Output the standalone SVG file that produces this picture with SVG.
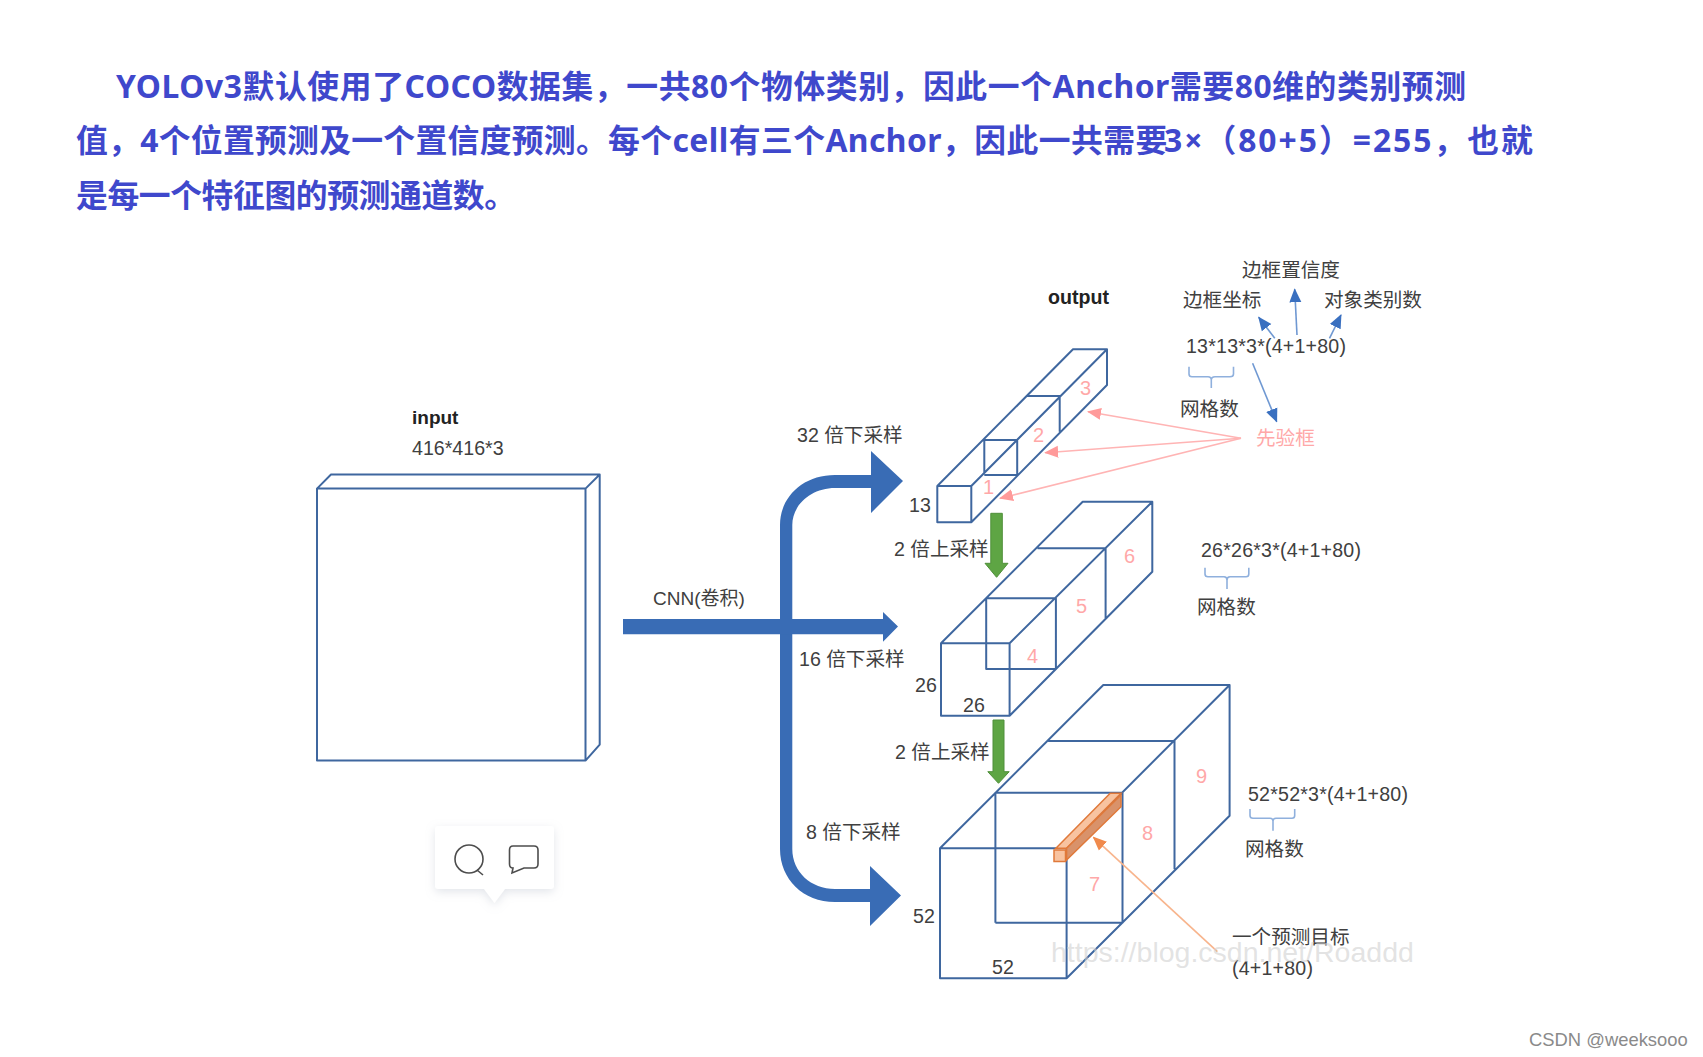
<svg xmlns="http://www.w3.org/2000/svg" width="1703" height="1057" viewBox="0 0 1703 1057">
<style>
text{font-family:"Liberation Sans","Noto Sans CJK SC",sans-serif;font-size:19.6px;fill:#404040}
.title{font-family:"Noto Sans","Noto Sans CJK SC",sans-serif;font-size:31.8px;font-weight:700;fill:#3f48cc}
.b{font-weight:700;fill:#222}
.p{fill:#ffa8a8;font-size:20px}
.box{fill:none;stroke:#3f679f;stroke-width:2;stroke-linejoin:round}
.big{fill:#396cb5}
.green{fill:#5ea544;stroke:#4f8f3a;stroke-width:1}
.br{fill:none;stroke:#8fb0dd;stroke-width:1.6}
.bl{fill:none;stroke:#6f98d2;stroke-width:1.6}
.pk{fill:none;stroke:#ffb4b4;stroke-width:1.6}
.or{fill:none;stroke:#f8b48c;stroke-width:1.6}
</style>
<defs>
<marker id="mb" markerUnits="userSpaceOnUse" markerWidth="14" markerHeight="14" refX="13" refY="7" orient="auto"><path d="M0 1L14 7L0 13Z" fill="#3a70c0"/></marker>
<marker id="mp" markerUnits="userSpaceOnUse" markerWidth="14" markerHeight="14" refX="13" refY="7" orient="auto"><path d="M0 1L14 7L0 13Z" fill="#ff9a9a"/></marker>
<marker id="mo" markerUnits="userSpaceOnUse" markerWidth="14" markerHeight="14" refX="13" refY="7" orient="auto"><path d="M0 1L14 7L0 13Z" fill="#f08a4c"/></marker>
<filter id="sh" x="-20%" y="-20%" width="140%" height="150%"><feDropShadow dx="0" dy="3" stdDeviation="5" flood-color="#9aa3b5" flood-opacity=".28"/></filter>
</defs>
<rect width="1703" height="1057" fill="#fff"/>
<g id="heading">
<text class="title" x="116" y="98" textLength="1350" lengthAdjust="spacing">YOLOv3默认使用了COCO数据集，一共80个物体类别，因此一个Anchor需要80维的类别预测</text>
<text class="title" y="152"><tspan x="76" style="letter-spacing:.3px">值，4个位置预测及一个置信度预测。</tspan><tspan x="608" style="letter-spacing:.45px">每个cell有三个Anchor，因此一共需要</tspan><tspan x="1164" style="letter-spacing:2px">3×（80+5）=255，也就</tspan></text>
<text class="title" x="76" y="207" textLength="440" lengthAdjust="spacing">是每一个特征图的预测通道数。</text>
</g>
<g id="input">
<path class="box" d="M317 488.600H585.500V760.600H317ZM317 488.600L331 474.500H599.700V744.700L585.500 760.600M585.500 488.600L599.700 474.500"/>
<text class="b" x="412" y="424" style="font-size:19px">input</text>
<text x="412" y="455" textLength="91.600" lengthAdjust="spacing">416*416*3</text>
</g>
<g id="tooltip">
<path d="M438 826H551Q554 826 554 829V886Q554 889 551 889H505L494.500 903L484 889H438Q435 889 435 886V829Q435 826 438 826Z" fill="#fff" filter="url(#sh)"/>
<circle cx="469" cy="859" r="14" fill="none" stroke="#4d4d4d" stroke-width="1.6"/>
<path d="M477 870L483 875" fill="none" stroke="#4d4d4d" stroke-width="1.6"/>
<path d="M513 846H534Q538 846 538 850V864Q538 868 534 868H524L512 873L513 868Q509.500 868 509.500 864V850Q509.500 846 513 846Z" fill="none" stroke="#4d4d4d" stroke-width="1.6"/>
</g>
<g id="box-13">
<path class="box" d="M937.300 486H971.300V522.300H937.300ZM937.300 486L1073 349.300H1107L971.300 486M1107 349.300V385L971.300 522.300M1027 396H1059.700V431.700M984.300 473.300V440H1017.200V475M984.300 475H1017.200"/>
<text x="909" y="512">13</text>
<text class="p" x="983" y="494">1</text><text class="p" x="1033" y="442">2</text><text class="p" x="1080" y="395">3</text>
</g>
<g id="box-26">
<path class="box" d="M941 643.300H1009.600V715.700H941ZM941 643.300L1082.700 501.700H1152.300L1009.600 643.300M1152.300 501.700V571.700L1009.600 715.700M1037.500 548.300H1105.600V618M986.200 643.300V598.300H1055.900V669M986.200 643.300V669H1055.900"/>
<text x="915" y="692">26</text><text x="963" y="712">26</text>
<text class="p" x="1027" y="663">4</text><text class="p" x="1076" y="613">5</text><text class="p" x="1124" y="563">6</text>
</g>
<g id="box-52">
<path class="box" d="M940 848.300H1066.600V978.300H940ZM940 848.300L1103.300 685H1229.600L1066.600 848.300M1229.600 685V815.700L1066.600 978.300M1048.200 741H1174.500V869.300M995.400 922.700V792.700H1122.500V922.700H995.400"/>
<path d="M1055.900 848.300L1110.200 793.300H1121L1066.600 848.300Z" fill="#f8c3a0" stroke="#e0793a" stroke-width="1.500"/>
<path d="M1066.600 848.300L1121 795V806.700L1066.600 860Z" fill="#d9926a" stroke="#e0793a" stroke-width="1.500"/>
<rect x="1054" y="850" width="11.500" height="11.500" fill="#f8c3a0" stroke="#e0793a" stroke-width="1.500"/>
<text x="913" y="923">52</text><text x="992" y="974">52</text>
<text class="p" x="1089" y="891">7</text><text class="p" x="1142" y="840">8</text><text class="p" x="1196" y="783">9</text>
</g>
<g id="connectors">
<path class="big" d="M903 481L871 451V475H835C803 475 780 497 780 525V849C780 879 803 902 835 902H870V866L901 895.500L870 926V889H835C811 889 792.300 872 792.300 849V525C792.300 505 811 488 835 488H871V513Z"/>
<path class="big" d="M623 619H883V612L898 626.500L883 641.700V634.300H623Z"/>
<path class="green" d="M990.800 513.300H1002.300V563.300H1008L996.600 577.300L985 563.300H990.800Z"/>
<path class="green" d="M993 720H1004V771.700H1009.200L998.500 783.300L987.800 771.700H993Z"/>
<path class="bl" marker-end="url(#mb)" d="M1274.800 338.300L1258.700 317.300"/>
<path class="bl" marker-end="url(#mb)" d="M1297 335L1294.700 289.300"/>
<path class="bl" marker-end="url(#mb)" d="M1329.500 338.300L1341 315"/>
<path class="bl" marker-end="url(#mb)" d="M1252.600 363.300L1276.700 421.700"/>
<path class="pk" marker-end="url(#mp)" d="M1241 438.300L1088 411.700"/>
<path class="pk" marker-end="url(#mp)" d="M1241 438.300L1045.200 452.700"/>
<path class="pk" marker-end="url(#mp)" d="M1241 438.300L1000 498.300"/>
<path class="or" marker-end="url(#mo)" d="M1217.400 951.700L1093.400 837.300"/>
<path class="br" d="M1189 366.700V374Q1189 376.700 1192 376.700H1208Q1211.300 376.700 1211.300 380V388M1211.300 380Q1211.300 376.700 1215 376.700H1230Q1233.500 376.700 1233.500 374V366.700"/>
<path class="br" d="M1205 567.700V574Q1205 576.700 1208 576.700H1224Q1227 576.700 1227 580V589M1227 580Q1227 576.700 1230 576.700H1246Q1248.800 576.700 1248.800 574V567.700"/>
<path class="br" d="M1250 809V815.500Q1250 818.300 1253 818.300H1270Q1273 818.300 1273 821V830.700M1273 821Q1273 818.300 1276 818.300H1292Q1294.700 818.300 1294.700 815.500V809"/>
</g>
<g id="labels">
<text x="653" y="605" style="font-size:19px">CNN(卷积)</text>
<text x="797" y="442">32 倍下采样</text>
<text x="799" y="666">16 倍下采样</text>
<text x="806" y="839">8 倍下采样</text>
<text x="894" y="556">2 倍上采样</text>
<text x="895" y="759">2 倍上采样</text>
<text class="b" x="1048" y="304">output</text>
<text x="1242" y="277">边框置信度</text>
<text x="1183" y="307">边框坐标</text>
<text x="1324" y="307">对象类别数</text>
<text x="1186" y="353" textLength="160" lengthAdjust="spacing">13*13*3*(4+1+80)</text>
<text x="1180" y="416">网格数</text>
<text class="p" x="1256" y="445" style="font-size:19.6px">先验框</text>
<text x="1201" y="557" textLength="160" lengthAdjust="spacing">26*26*3*(4+1+80)</text>
<text x="1197" y="614">网格数</text>
<text x="1248" y="801" textLength="160" lengthAdjust="spacing">52*52*3*(4+1+80)</text>
<text x="1245" y="856">网格数</text>
<text x="1232" y="944">一个预测目标</text>
<text x="1232" y="975" textLength="81" lengthAdjust="spacing">(4+1+80)</text>
</g>
<text x="1051" y="962" style="font-size:28.5px;fill:#d0d0d0;fill-opacity:.6">https://blog.csdn.net/Roaddd</text>
<text x="1529" y="1046" style="font-size:18.400px;fill:#8a8a8a">CSDN @weeksooo</text>
</svg>
